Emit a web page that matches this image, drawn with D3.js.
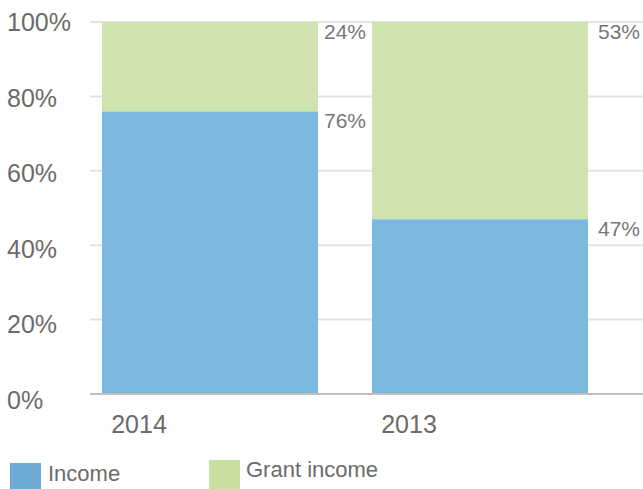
<!DOCTYPE html>
<html><head><meta charset="utf-8">
<script src="https://cdn.jsdelivr.net/npm/d3@7"></script>
<style>body{margin:0;background:#fff;}svg{display:block;font-family:"Liberation Sans",Arial,sans-serif;}</style>
</head><body>
<svg id="c" width="643" height="489"></svg>
<script>
const categories = ["2014", "2013"];
const income = [76, 47];
const grantIncome = [24, 53];
const yTicks = [0, 20, 40, 60, 80, 100];
const seriesNames = ["Income", "Grant income"];
const colors = ["#7db9de", "#cfe3ae"];
const legendColors = ["#6faad7", "#c8e0a1"];

const svg = d3.select("#c");
const y = d3.scaleLinear().domain([0, 100]).range([394, 22]);
const yLabel = d3.scaleLinear().domain([0, 100]).range([400, 22.5]);
const x = d3.scaleBand().domain(categories).range([75, 615]).paddingInner(0.2).paddingOuter(0.1);

// gridlines
svg.append("g").selectAll("line").data(yTicks.filter(d => d > 0)).join("line")
  .attr("x1", 90).attr("x2", 643).attr("y1", d => y(d)).attr("y2", d => y(d))
  .attr("stroke", "#e2e2e2").attr("stroke-width", 2);

// y labels
svg.append("g").selectAll("text").data(yTicks).join("text")
  .attr("x", 7).attr("y", d => yLabel(d)).attr("dy", "0.35em")
  .attr("font-size", 25).attr("fill", "#6b6b6b").text(d => d + "%");

const stackData = categories.map((c, i) => ({cat: c, income: income[i], grant: grantIncome[i]}));
const stack = d3.stack().keys(["income", "grant"])(stackData);

svg.append("g").selectAll("g").data(stack).join("g")
  .attr("fill", (d, i) => colors[i])
  .selectAll("rect").data(d => d).join("rect")
  .attr("x", d => x(d.data.cat)).attr("width", x.bandwidth())
  .attr("y", d => y(d[1])).attr("height", d => y(d[0]) - y(d[1]));

// axis line
svg.append("line").attr("x1", 90).attr("x2", 643).attr("y1", 394).attr("y2", 394)
  .attr("stroke", "#c0c0c0").attr("stroke-width", 2);

// value labels
const valueOffsets = [6, 10];
stack.forEach(s => {
  svg.append("g").selectAll("text").data(s).join("text")
    .attr("x", (d, i) => x(d.data.cat) + x.bandwidth() + valueOffsets[i])
    .attr("y", d => y(d[1]) + 16.5)
    .attr("font-size", 21).attr("fill", "#777")
    .text(d => (d[1] - d[0]) + "%");
});

// x labels
svg.append("g").selectAll("text").data(categories).join("text")
  .attr("x", d => x(d) + x.bandwidth() / 2 - 71).attr("y", 433)
  .attr("text-anchor", "middle").attr("font-size", 25).attr("fill", "#6b6b6b").text(d => d);

// legend
const legPos = [{sx: 10, sy: 463, tx: 48, ty: 481}, {sx: 209, sy: 460, tx: 246, ty: 477}];
const leg = svg.append("g").selectAll("g").data(seriesNames).join("g");
leg.append("rect").attr("x", (d, i) => legPos[i].sx).attr("y", (d, i) => legPos[i].sy)
  .attr("width", 31).attr("height", 30).attr("fill", (d, i) => legendColors[i]);
leg.append("text").attr("x", (d, i) => legPos[i].tx).attr("y", (d, i) => legPos[i].ty)
  .attr("font-size", 22).attr("fill", "#6b6b6b").text(d => d);
</script>
</body></html>
